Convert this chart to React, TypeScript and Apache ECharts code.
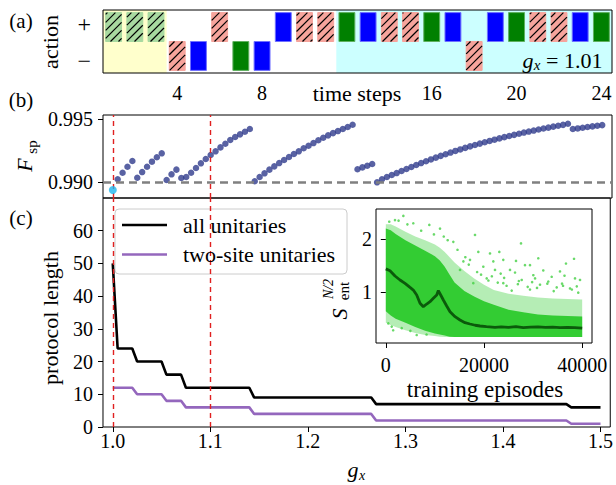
import React, { useEffect, useRef } from "react";
import * as echarts from "echarts";

// ---------------- Panel (a): action protocol ----------------
const timeSteps = [1, 2, 3, 4, 5, 6, 7, 8, 9, 10, 11, 12, 13, 14, 15, 16, 17, 18, 19, 20, 21, 22, 23, 24];
const actionSign = [1, 1, 1, -1, -1, 1, -1, -1, 1, 1, 1, 1, 1, 1, 1, 1, 1, -1, 1, 1, 1, 1, 1, 1];
const actionKind = ["hg", "hg", "hg", "hs", "b", "hs", "g", "b", "b", "hs", "hs", "g", "b", "hs", "hs", "g", "b", "hs", "b", "g", "hs", "hs", "b", "g"];
const timeTicks = [4, 8, 16, 20, 24];
const actionTickPos = [0.6, -0.66];
const actionTickText = ["+", "\u2212"];
const phaseSpans = [
  [0.5, 3.5],
  [11.5, 24.5],
];
const phaseColors = ["#ffffcc", "#ccffff"];
const gxAnnotation = "= 1.01";

// ---------------- Panel (b): fidelity ----------------
const gxStart = 1.0;
const gxStep = 0.005;
const fidelityFirst = 0.98939;
const fidelity = [
  0.99024, 0.99076, 0.99123, 0.99168,
  0.99036, 0.99081, 0.99123, 0.99163, 0.99198, 0.99229,
  0.99018, 0.99063, 0.991, 0.99034,
  0.99042, 0.99076, 0.99113, 0.9915, 0.99184, 0.99216, 0.99245, 0.99276, 0.99305, 0.99334, 0.99358, 0.99379, 0.994, 0.99421,
  0.99008, 0.99042, 0.99071, 0.991, 0.99126, 0.99152, 0.99176, 0.992, 0.99224, 0.99245, 0.99269, 0.99289, 0.9931, 0.99332, 0.99352, 0.99371, 0.99389, 0.99405, 0.99421, 0.99437, 0.99455,
  0.99103, 0.99118, 0.99131, 0.99145,
  0.99, 0.99024, 0.99042, 0.99058, 0.99073, 0.99089, 0.99105, 0.99121, 0.99137, 0.99152,
  0.99166, 0.99181, 0.99195, 0.99209, 0.99222, 0.99235, 0.99248, 0.9926, 0.99272, 0.99284,
  0.99295, 0.99306, 0.99317, 0.99327, 0.99337, 0.99347, 0.99357, 0.99366, 0.99375, 0.99384,
  0.99393, 0.99401, 0.99409, 0.99417, 0.99425, 0.99432, 0.9944, 0.99447, 0.99454, 0.99463,
  0.99421, 0.99426, 0.99431, 0.99437, 0.99442, 0.99447, 0.99452,
];
const fidelityTicks = [0.99, 0.995];
const fidelityThreshold = 0.99;
const markedGx = [1.0, 1.1];

// ---------------- Panel (c): protocol length ----------------
const stepStartGx = [1.0, 1.005, 1.025, 1.055, 1.075, 1.145, 1.27, 1.47];
const gxEnd = 1.5;
const allUnitaries = [50, 24, 20, 16, 12, 9, 7, 6];
const twoSiteUnitaries = [12, 12, 10, 8, 6, 4, 2, 1];
const seriesNames = ["all unitaries", "two-site unitaries"];
const gxTicks = [1.0, 1.1, 1.2, 1.3, 1.4, 1.5];
const lengthTicks = [0, 10, 20, 30, 40, 50, 60];

// ---------------- Inset: entanglement entropy ----------------
const episodeTicks = [0, 20000, 40000];
const entropyTicks = [1, 2];
const bandX = [0, 1000, 2000, 4000, 6000, 8000, 10000, 11000, 12000, 13000, 14000, 16000, 18000, 20000, 22000, 25000, 28000, 31000, 34000, 37000, 40000];
const denseUpper = [2.2, 2.17, 2.1, 1.98, 1.88, 1.78, 1.68, 1.6, 1.48, 1.33, 1.18, 1.02, 0.92, 0.83, 0.76, 0.67, 0.62, 0.58, 0.56, 0.55, 0.54];
const denseLower = [0.64, 0.56, 0.5, 0.42, 0.34, 0.27, 0.22, 0.2, 0.18, 0.16, 0.155, 0.155, 0.155, 0.155, 0.155, 0.155, 0.155, 0.155, 0.155, 0.155, 0.155];
const sparseUpper = [2.28, 2.28, 2.24, 2.14, 2.05, 1.98, 1.9, 1.84, 1.76, 1.66, 1.56, 1.4, 1.26, 1.14, 1.04, 0.97, 0.93, 0.9, 0.88, 0.87, 0.86];
const sparseLower = [0.42, 0.38, 0.34, 0.28, 0.23, 0.19, 0.17, 0.16, 0.155, 0.155, 0.155, 0.155, 0.155, 0.155, 0.155, 0.155, 0.155, 0.155, 0.155, 0.155, 0.155];
const outlierX = [1870, 3570, 5600, 8860, 11040, 18170, 13750, 18840, 21220, 17150, 19860, 15110, 20550, 17820, 1200, 6290, 3240, 510,
  27540, 23120, 31060, 26520, 38340, 23930, 21900, 28350, 29370, 36700, 32080, 35480, 25300, 22240, 26320, 30050, 33790, 38540, 39560, 27680, 23930, 31410, 34810, 37520, 29370, 25640,
  700, 2600, 4400, 7200, 9800, 12600, 14600, 16200, 16900, 19400, 20900, 22800, 24600, 26900, 28900, 30800, 32900, 34200, 36100, 37900, 39200, 21600, 24100, 27100, 29800, 33100, 35900, 38900,
  1500, 5000, 8300, 11800, 15800, 18600, 23400, 30400, 36400];
const outlierY = [2.36, 2.44, 2.3, 2.27, 2.2, 2.08, 1.95, 1.76, 1.73, 1.61, 1.48, 1.42, 1.26, 1.17, 0.35, 0.19, 0.32, 0.41,
  1.92, 1.76, 1.64, 1.59, 1.63, 1.61, 1.58, 1.51, 1.51, 1.54, 1.41, 1.39, 1.42, 1.42, 1.37, 1.32, 1.29, 1.26, 1.23, 1.23, 1.17, 1.14, 1.09, 1.07, 1.05, 1.03,
  2.33, 2.35, 2.28, 2.16, 2.09, 1.98, 1.8, 1.66, 1.52, 1.33, 1.22, 1.18, 1.12, 1.15, 1.1, 1.08, 1.16, 1.02, 1.12, 1.05, 0.99, 1.3, 1.27, 1.21, 1.19, 1.2, 1.16, 1.11,
  0.28, 0.27, 0.2, 2.05, 1.58, 1.38, 1.35, 1.26, 1.31];
const avgX = [0, 850, 1870, 2890, 3910, 4930, 5600, 6290, 6970, 7640, 8330, 9000, 9680, 10370, 10700, 11180, 11720, 12400, 13080, 14100, 15110, 16130, 17150, 18200, 19190, 20500, 22240, 23500, 25000, 26500, 28000, 29500, 31000, 32500, 34000, 35500, 37000, 38500, 40000];
const avgY = [1.44, 1.405, 1.305, 1.23, 1.167, 1.09, 1.04, 0.946, 0.79, 0.725, 0.776, 0.82, 0.884, 0.946, 1.03, 0.946, 0.852, 0.739, 0.631, 0.537, 0.474, 0.424, 0.399, 0.375, 0.361, 0.35, 0.336, 0.345, 0.335, 0.35, 0.33, 0.34, 0.345, 0.335, 0.34, 0.33, 0.335, 0.33, 0.32];

const FONT = "Liberation Serif, DejaVu Serif, serif";
const TICK_FS = 20;
const LABEL_FS = 22;

const kindStyle: Record<string, { fill: string; stroke: string; hatch: boolean }> = {
  hg: { fill: "#a8d9a0", stroke: "#a8d9a0", hatch: true },
  hs: { fill: "#f6a49c", stroke: "#f6a49c", hatch: true },
  b: { fill: "#0000ff", stroke: "#7070ff", hatch: false },
  g: { fill: "#008000", stroke: "#60b060", hatch: false },
};

function stepLine(vals: number[]) {
  const pts: number[][] = [];
  for (let i = 0; i < stepStartGx.length; i++) {
    const s = stepStartGx[i];
    const e = i + 1 < stepStartGx.length ? stepStartGx[i + 1] - gxStep : gxEnd;
    pts.push([s, vals[i]]);
    if (e > s + 1e-9) pts.push([e, vals[i]]);
  }
  return pts;
}

function txt(x: number, y: number, text: string, fs: number, extra: any = {}) {
  return {
    type: "text",
    x,
    y,
    rotation: extra.rotation || 0,
    z: 60,
    style: {
      text,
      fill: "#000",
      font: `${extra.italic ? "italic " : ""}${fs}px ${FONT}`,
      fontSize: fs,
      fontFamily: FONT,
      fontStyle: extra.italic ? "italic" : "normal",
      align: extra.align || "center",
      verticalAlign: "middle",
      textAlign: extra.align || "center",
      textVerticalAlign: "middle",
    },
  };
}

function bandSeries(upper: number[], lower: number[], color: string, z: number) {
  return {
    type: "custom",
    xAxisIndex: 3,
    yAxisIndex: 3,
    z,
    silent: true,
    data: [[0, 1]],
    renderItem: (_p: any, api: any) => {
      const pts: number[][] = [];
      for (let i = 0; i < bandX.length; i++) pts.push(api.coord([bandX[i], upper[i]]));
      for (let i = bandX.length - 1; i >= 0; i--) pts.push(api.coord([bandX[i], lower[i]]));
      return { type: "polygon", shape: { points: pts }, style: { fill: color, stroke: "none" } };
    },
  };
}

const tickLine = { show: true, length: 5, lineStyle: { color: "#000", width: 1 } };
const labelBase = { color: "#000", fontFamily: FONT, fontSize: TICK_FS };

export default function App() {
  const ref = useRef<HTMLDivElement>(null);
  useEffect(() => {
    if (!ref.current) return;
    const chart = echarts.init(ref.current, null, { renderer: "svg" });
    const Y_A = 1.09;

    const redLines = {
      symbol: ["none", "none"],
      silent: true,
      label: { show: false },
      lineStyle: { color: "#e02020", type: [5, 4], width: 1.4 },
      data: markedGx.map((g) => ({ xAxis: g })),
    };

    const option: any = {
      animation: false,
      backgroundColor: "#fff",
      textStyle: { fontFamily: FONT },
      grid: [
        { left: 103, top: 10, width: 509, height: 63, show: true, borderColor: "#000", borderWidth: 1, z: 20, backgroundColor: "transparent" },
        { left: 103, top: 115, width: 509, height: 83, show: true, borderColor: "#000", borderWidth: 1, backgroundColor: "transparent" },
        { left: 103, top: 198, width: 509, height: 229, show: true, borderColor: "#000", borderWidth: 1, backgroundColor: "transparent" },
        { left: 376, top: 209, width: 216, height: 134, show: true, borderColor: "#000", borderWidth: 1, backgroundColor: "#fff", z: 10 },
      ],
      xAxis: [
        {
          gridIndex: 0, type: "value", min: 0.5, max: 24.5,
          axisLine: { show: false }, splitLine: { show: false },
          axisTick: { ...tickLine, customValues: timeTicks },
          axisLabel: { ...labelBase, customValues: timeTicks, margin: 10 },
        },
        {
          gridIndex: 1, type: "value", min: 0.99, max: 1.51,
          axisLine: { show: false }, splitLine: { show: false }, axisTick: { show: false }, axisLabel: { show: false },
        },
        {
          gridIndex: 2, type: "value", min: 0.99, max: 1.51,
          axisLine: { show: false }, splitLine: { show: false },
          axisTick: { ...tickLine, customValues: gxTicks },
          axisLabel: { ...labelBase, customValues: gxTicks, margin: 4, formatter: (v: number) => v.toFixed(1) },
        },
        {
          gridIndex: 3, type: "value", min: -2000, max: 42000, z: 15,
          axisLine: { show: false }, splitLine: { show: false },
          axisTick: { ...tickLine, customValues: episodeTicks },
          axisLabel: { ...labelBase, customValues: episodeTicks, margin: 12, formatter: (v: number) => String(v) },
        },
      ],
      yAxis: [
        {
          gridIndex: 0, type: "value", min: -Y_A, max: Y_A,
          axisLine: { show: false }, splitLine: { show: false }, axisTick: { show: false },
          axisLabel: {
            ...labelBase, fontSize: 24, customValues: actionTickPos, margin: 12,
            formatter: (v: number) => actionTickText[v > 0 ? 0 : 1],
          },
        },
        {
          gridIndex: 1, type: "value", min: 0.98876, max: 0.99532,
          axisLine: { show: false }, splitLine: { show: false },
          axisTick: { ...tickLine, customValues: fidelityTicks },
          axisLabel: { ...labelBase, customValues: fidelityTicks, margin: 10, formatter: (v: number) => v.toFixed(3) },
        },
        {
          gridIndex: 2, type: "value", min: 0, max: 70,
          axisLine: { show: false }, splitLine: { show: false },
          axisTick: { ...tickLine, customValues: lengthTicks },
          axisLabel: { ...labelBase, customValues: lengthTicks, margin: 10 },
        },
        {
          gridIndex: 3, type: "value", min: 0.04, max: 2.57, z: 15,
          axisLine: { show: false }, splitLine: { show: false },
          axisTick: { ...tickLine, customValues: entropyTicks },
          axisLabel: { ...labelBase, customValues: entropyTicks, margin: 4 },
        },
      ],
      series: [
        {
          type: "custom", xAxisIndex: 0, yAxisIndex: 0, z: 1, silent: true,
          data: phaseSpans.map((s, i) => [s[0], s[1], i]),
          renderItem: (params: any, api: any) => {
            const a = api.coord([api.value(0), Y_A]);
            const b = api.coord([api.value(1), -Y_A]);
            return {
              type: "rect",
              shape: { x: a[0], y: a[1], width: b[0] - a[0], height: b[1] - a[1] },
              style: { fill: phaseColors[params.dataIndex], stroke: "none" },
            };
          },
        },
        {
          type: "custom", xAxisIndex: 0, yAxisIndex: 0, z: 3, silent: true,
          data: timeSteps.map((t, i) => [t, actionSign[i]]),
          renderItem: (params: any, api: any) => {
            const t = api.value(0);
            const s = api.value(1);
            const st = kindStyle[actionKind[params.dataIndex]];
            const a = api.coord([t - 0.375, 0]);
            const b = api.coord([t + 0.375, s]);
            const x = Math.min(a[0], b[0]);
            const y = Math.min(a[1], b[1]);
            const w = Math.abs(b[0] - a[0]);
            const h = Math.abs(b[1] - a[1]);
            const children: any[] = [
              { type: "rect", shape: { x, y, width: w, height: h }, style: { fill: st.fill, stroke: st.stroke, lineWidth: 1 } },
            ];
            if (st.hatch) {
              const step = 8;
              for (let c = Math.ceil((x + y) / step) * step; c <= x + w + y + h; c += step) {
                const xa = Math.max(x, c - (y + h));
                const xb = Math.min(x + w, c - y);
                if (xb - xa > 0.6) {
                  children.push({ type: "line", shape: { x1: xa, y1: c - xa, x2: xb, y2: c - xb }, style: { stroke: "#000", lineWidth: 1.2 } });
                }
              }
            }
            return { type: "group", children };
          },
        },
        {
          type: "line", xAxisIndex: 1, yAxisIndex: 1, data: [], z: 1, silent: true,
          markLine: {
            symbol: ["none", "none"], silent: true, label: { show: false },
            data: [{ yAxis: fidelityThreshold, lineStyle: { color: "#808080", type: [8, 5], width: 2.5 } }],
          },
        },
        {
          type: "line", xAxisIndex: 1, yAxisIndex: 1, data: [], z: 2, silent: true, markLine: redLines,
        },
        {
          type: "scatter", xAxisIndex: 1, yAxisIndex: 1, z: 4, silent: true,
          symbolSize: 6.5, itemStyle: { color: "#2f3b8c" },
          data: fidelity.map((f, i) => [gxStart + gxStep * (i + 1), f]),
        },
        {
          type: "scatter", xAxisIndex: 1, yAxisIndex: 1, z: 5, silent: true,
          symbolSize: 8, itemStyle: { color: "#1eb6ef" },
          data: [[gxStart, fidelityFirst]],
        },
        {
          type: "line", xAxisIndex: 2, yAxisIndex: 2, data: [], z: 1, silent: true, markLine: redLines,
        },
        {
          name: seriesNames[0], type: "line", xAxisIndex: 2, yAxisIndex: 2, z: 3, silent: true,
          symbol: "none", lineStyle: { color: "#000", width: 2.6 }, data: stepLine(allUnitaries),
        },
        {
          name: seriesNames[1], type: "line", xAxisIndex: 2, yAxisIndex: 2, z: 3, silent: true,
          symbol: "none", lineStyle: { color: "#9467bd", width: 2.6 }, data: stepLine(twoSiteUnitaries),
        },
        bandSeries(sparseUpper, sparseLower, "rgba(50,205,50,0.36)", 11),
        bandSeries(denseUpper, denseLower, "#33cc33", 12),
        {
          type: "scatter", xAxisIndex: 3, yAxisIndex: 3, z: 13, silent: true,
          symbolSize: 2.6, itemStyle: { color: "#44cf44", opacity: 0.8 },
          data: outlierX.map((x, i) => [x, outlierY[i]]),
        },
        {
          type: "line", xAxisIndex: 3, yAxisIndex: 3, z: 14, silent: true,
          symbol: "none", lineStyle: { color: "#0b5a0b", width: 2.8 },
          data: avgX.map((x, i) => [x, avgY[i]]),
        },
      ],
      graphic: [
        txt(21, 21, "(a)", 21),
        txt(21, 100, "(b)", 21),
        txt(21, 218, "(c)", 21),
        txt(50, 42, "action", LABEL_FS, { rotation: Math.PI / 2 }),
        txt(357, 93, "time steps", LABEL_FS),
        // g_x = 1.01 annotation in panel (a)
        txt(528, 60, "g", LABEL_FS, { italic: true }),
        txt(537, 65, "x", 15, { italic: true }),
        txt(546, 60, gxAnnotation, LABEL_FS, { align: "left" }),
        // F_sp label
        {
          type: "group", x: 27, y: 155, rotation: Math.PI / 2, z: 60,
          children: [
            txt(-10, -3, "F", LABEL_FS, { italic: true }),
            txt(8, 5, "sp", 15),
          ],
        },
        txt(50, 318, "protocol length", LABEL_FS, { rotation: Math.PI / 2 }),
        // g_x axis label
        txt(353, 469, "g", LABEL_FS, { italic: true }),
        txt(362, 475, "x", 14, { italic: true }),
        // inset labels
        {
          type: "group", x: 336, y: 300, rotation: Math.PI / 2, z: 60,
          children: [
            txt(-14, 3, "S", LABEL_FS, { italic: true }),
            txt(9, 8, "ent", 15),
            txt(11, -8, "N/2", 14, { italic: true }),
          ],
        },
        txt(485, 389, "training episodes", 23),
        // legend
        {
          type: "group", x: 115, y: 209, z: 50,
          children: [
            { type: "rect", shape: { x: 0, y: 0, width: 232, height: 65, r: 4 }, style: { fill: "rgba(255,255,255,0.8)", stroke: "#cccccc", lineWidth: 1 } },
            { type: "line", shape: { x1: 7, y1: 16, x2: 52, y2: 16 }, style: { stroke: "#000", lineWidth: 2.6 } },
            txt(68, 16, seriesNames[0], LABEL_FS, { align: "left" }),
            { type: "line", shape: { x1: 7, y1: 45.5, x2: 52, y2: 45.5 }, style: { stroke: "#9467bd", lineWidth: 2.6 } },
            txt(68, 45.5, seriesNames[1], LABEL_FS, { align: "left" }),
          ],
        },
      ],
    };
    chart.setOption(option);
    return () => chart.dispose();
  }, []);
  return <div ref={ref} style={{ position: "absolute", left: 0, top: 0, width: 616, height: 485 }} />;
}
